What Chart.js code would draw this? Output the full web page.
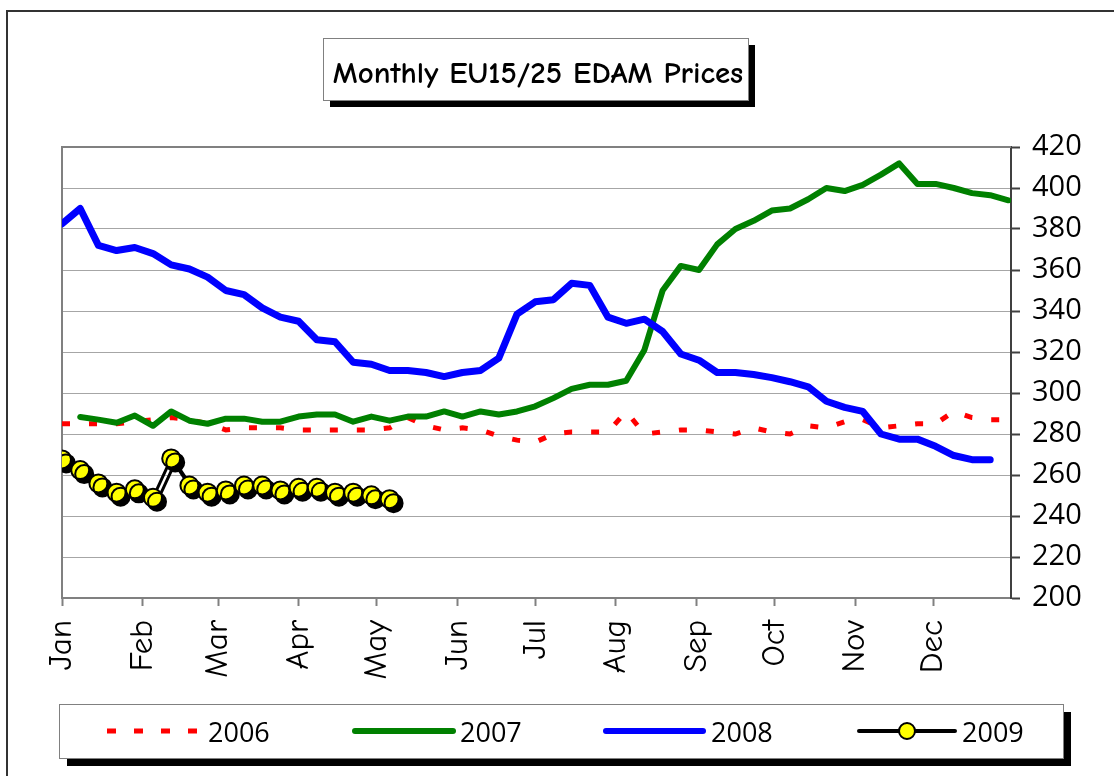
<!DOCTYPE html>
<html><head><meta charset="utf-8">
<script src="https://cdn.jsdelivr.net/npm/chart.js@4.4.0/dist/chart.umd.min.js"></script>
<style>html,body{margin:0;padding:0;background:#fff}#wrap{width:1114px;height:776px}</style>
</head><body><div id="wrap"><canvas id="c" width="1114" height="776"></canvas></div>
<script>
const chartTitle = 'Monthly EU15/25 EDAM Prices';
const monthLabels = ['Jan','Feb','Mar','Apr','May','Jun','Jul','Aug','Sep','Oct','Nov','Dec'];
const monthStartDays = [0,31,60,91,121,152,182,213,244,274,305,335];
const yMin = 200, yMax = 420, yStep = 20;
const seriesNames = ['2006','2007','2008','2009'];
const weekDays = Array.from({length:53},(_,i)=>i*7);
const v2006 = [285,285,285,285,286,287,288,287,285,282,283,283,283,282,282,282,282,282,283,288,284,282,283,282,279,277,276,280,281,281,281,291,280,281,282,282,281,280,283,281,280,284,283,286,287,283,284,285,285,291,288,287,287];
const v2007 = [null,288.3,287,285.5,289,284,291,286.5,285,287.5,287.5,286,286,288.5,289.5,289.5,286,288.5,286.5,288.5,288.5,291,288.5,291,289.5,291,293.5,297.5,302,304,304,306,321,350,362,360,372.5,380,384,389,390,394.5,400,398.5,401.5,406.5,412,402,402,400,397.5,396.5,394];
const v2008 = [382.5,390,372,369.5,371,368,362.5,360.5,356.5,350,348,341.5,337,335,326,325,315,314,311,311,310,308,310,311,317,338.5,344.5,345.5,353.5,352.5,337,334,336,330,319,316,310,310,309,307.5,305.5,303,296,293,291,280,277.5,277.5,274,269.5,267.5,267.5];
const v2009 = [267.6,262.4,255.9,251.4,253,248.9,268.1,254.9,251.4,252.5,254.9,254.9,252.5,253.8,253.8,251.4,251.4,250.1,248.2];

const toPoints = vals => vals.map((y,i)=>({x:weekDays[i], y:y}));
const DIGIT_FONT = "'Open Sans', 'DejaVu Sans', sans-serif";
const COMIC_FONT = "'Comic Sans MS', 'Comic Neue', 'DejaVu Sans', sans-serif";

const datasets = [
  {label:seriesNames[0], data:toPoints(v2006), borderColor:'#ff0000', borderWidth:5, borderDash:[8,19], borderCapStyle:'butt', pointRadius:0, order:4},
  {label:seriesNames[1], data:toPoints(v2007), borderColor:'#008000', borderWidth:6, pointRadius:0, order:3, borderJoinStyle:'round', borderCapStyle:'round'},
  {label:seriesNames[2], data:toPoints(v2008), borderColor:'#0000ff', borderWidth:7, pointRadius:0, order:2, borderJoinStyle:'round', borderCapStyle:'round'},
  {label:seriesNames[3], data:toPoints(v2009), borderColor:'#000000', borderWidth:3, pointRadius:9, pointBackgroundColor:'#ffff00', pointBorderColor:'#000000', pointBorderWidth:2, order:1}
];

function shadowBox(ctx, x, y, w, h, off){
  ctx.fillStyle = '#000';
  ctx.fillRect(x+off, y+off, w, h);
  ctx.fillStyle = '#fff';
  ctx.fillRect(x, y, w, h);
  ctx.strokeStyle = '#808080';
  ctx.lineWidth = 1;
  ctx.strokeRect(x+0.5, y+0.5, w, h);
}

const decor = {
  id:'decor',
  beforeDraw(chart){
    const ctx = chart.ctx;
    ctx.save();
    ctx.fillStyle = '#fff';
    ctx.fillRect(0,0,chart.width,chart.height);
    ctx.strokeStyle = '#333';
    ctx.lineWidth = 2;
    ctx.beginPath();
    ctx.moveTo(7, 776); ctx.lineTo(7, 11); ctx.lineTo(1114, 11);
    ctx.stroke();
    shadowBox(ctx, 323, 38, 425, 62, 7);
    let size = 26;
    ctx.font = 'bold ' + size + 'px ' + COMIC_FONT;
    const w = ctx.measureText(chartTitle).width;
    size = size * 410 / w;
    ctx.font = 'bold ' + size.toFixed(1) + 'px ' + COMIC_FONT;
    ctx.fillStyle = '#000';
    ctx.textAlign = 'center';
    ctx.textBaseline = 'alphabetic';
    ctx.fillText(chartTitle, 538, 83);
    ctx.restore();
  },
  beforeDatasetsDraw(chart){
    const ctx = chart.ctx, a = chart.chartArea;
    ctx.save();
    ctx.strokeStyle = '#808080';
    ctx.lineWidth = 2;
    ctx.beginPath();
    ctx.moveTo(a.left, a.bottom); ctx.lineTo(a.left, a.top); ctx.lineTo(a.right, a.top);
    ctx.stroke();
    ctx.restore();
  },
  beforeDatasetDraw(chart, args){
    if (args.index === 3){
      const ctx = chart.ctx;
      ctx.save();
      ctx.shadowColor = '#000';
      ctx.shadowOffsetX = 4;
      ctx.shadowOffsetY = 4;
      ctx.shadowBlur = 0;
    }
  },
  afterDatasetDraw(chart, args){
    if (args.index === 3){ chart.ctx.restore(); }
  },
  afterDraw(chart){
    const ctx = chart.ctx;
    ctx.save();
    shadowBox(ctx, 59, 704, 1004, 54, 8);
    const ly = 731;
    const items = [
      {x1:107, x2:197, tx:208},
      {x1:355, x2:453, tx:460},
      {x1:606, x2:703, tx:711},
      {x1:859, x2:955, tx:962}
    ];
    items.forEach((it, i) => {
      const ds = chart.data.datasets[i];
      ctx.save();
      ctx.strokeStyle = ds.borderColor;
      ctx.lineWidth = i === 3 ? 4 : (i === 0 ? 5 : 6);
      ctx.lineCap = (i === 0) ? 'butt' : 'round';
      ctx.setLineDash(i === 0 ? [9,18] : []);
      ctx.beginPath(); ctx.moveTo(it.x1, ly); ctx.lineTo(it.x2, ly); ctx.stroke();
      ctx.restore();
      if (i === 3){
        ctx.beginPath();
        ctx.arc((it.x1+it.x2)/2, ly, 8, 0, Math.PI*2);
        ctx.fillStyle = ds.pointBackgroundColor; ctx.fill();
        ctx.lineWidth = 2; ctx.strokeStyle = '#000'; ctx.stroke();
      }
      ctx.fillStyle = '#000';
      ctx.font = '27px ' + DIGIT_FONT;
      ctx.textAlign = 'left';
      ctx.textBaseline = 'alphabetic';
      ctx.fillText(ds.label, it.tx, 742);
    });
    ctx.restore();
  }
};

new Chart(document.getElementById('c'), {
  type:'line',
  data:{datasets:datasets},
  plugins:[decor],
  options:{
    responsive:false,
    animation:false,
    devicePixelRatio:1,
    layout:{padding:{left:62, top:147, right:0, bottom:0}},
    plugins:{legend:{display:false}, title:{display:false}, tooltip:{enabled:false}},
    elements:{line:{tension:0, fill:false}},
    scales:{
      x:{
        type:'linear', min:0, max:365,
        afterFit(s){ s.height = 178; },
        afterBuildTicks(s){ s.ticks = monthStartDays.map(v => ({value:v})); },
        ticks:{
          autoSkip:false, minRotation:90, maxRotation:90, padding:14,
          color:'#000', font:{family:COMIC_FONT, size:33},
          callback:(v, i) => monthLabels[i]
        },
        grid:{drawOnChartArea:false, drawTicks:true, tickLength:8, tickColor:'#808080', tickWidth:2},
        border:{display:true, color:'#808080', width:2}
      },
      y:{
        position:'right', min:yMin, max:yMax,
        afterFit(s){ s.width = 103; },
        ticks:{stepSize:yStep, padding:12, color:'#000', font:{family:DIGIT_FONT, size:29}},
        grid:{color:'#a6a6a6', lineWidth:1, tickLength:9, tickColor:'#404040', tickWidth:2},
        border:{display:true, color:'#404040', width:2}
      }
    }
  }
});
</script>
</body></html>
